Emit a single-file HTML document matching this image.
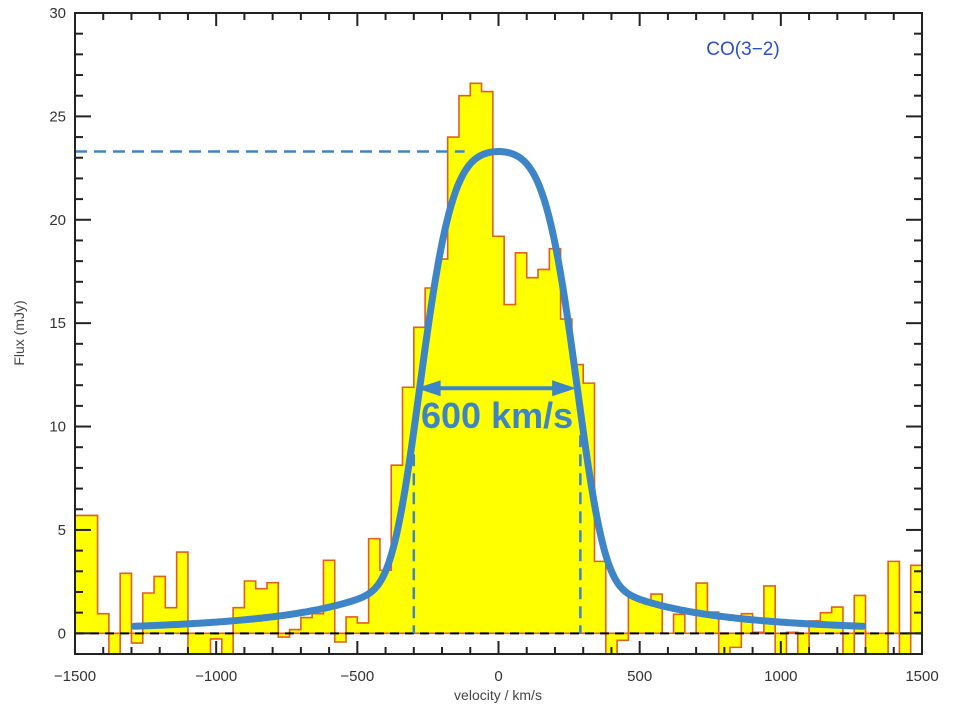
<!DOCTYPE html>
<html><head><meta charset="utf-8"><style>
body{margin:0;background:#fff;width:960px;height:720px;overflow:hidden}
svg{display:block;font-family:"Liberation Sans",sans-serif}
</style></head><body>
<svg id="chart" width="960" height="720"></svg>
<script>
const binStart=-1500, binWidth=40;
const fluxValues=[5.7,5.7,0.95,-1,2.9,-0.47,1.95,2.75,1.24,3.93,-1,-1,-0.27,-1,1.24,2.53,2.16,2.45,-0.18,0.18,0.76,0.95,3.53,-0.42,0.79,0.5,4.58,3.05,
8.13,11.9,14.8,16.7,18.1,24.0,26.0,26.6,26.2,19.2,15.9,18.4,17.2,17.6,18.6,15.2,13.0,12.1,
3.48,-1,-0.34,1.73,1.52,1.9,0,0.92,0,2.43,1.03,-1,-0.68,0.95,0.05,2.29,-1,0.05,-1,0.6,1.0,1.27,-1,1.83,-1,-1,3.48,-1,3.29];
const fitParams=[18.3,302,4,5,349]; // core amp, core width, power, wing amp, wing width
const fitRange=[-1290,1290];
const fwhmEdges=[-300,290];
const peakFlux=23.3;
const xTicks=[-1500,-1000,-500,0,500,1000,1500];
const yTicks=[0,5,10,15,20,25,30];
const L=75,R=922,T=13,B=654,xmin=-1500,xmax=1500,ymin=-1,ymax=30;
const X=v=>L+(v-xmin)/(xmax-xmin)*(R-L);
const Y=f=>B-(f-ymin)/(ymax-ymin)*(B-T);
const svg=document.getElementById('chart');
const NS='http://www.w3.org/2000/svg';
function mk(tag,attrs,parent){const e=document.createElementNS(NS,tag);for(const k in attrs)e.setAttribute(k,attrs[k]);(parent||svg).appendChild(e);return e;}
let d='M'+X(binStart)+','+Y(0);
fluxValues.forEach((f,i)=>{const a=X(binStart+i*binWidth),b=X(binStart+(i+1)*binWidth);d+=' L'+a+','+Y(f)+' L'+b+','+Y(f);});
d+=' L'+X(binStart+fluxValues.length*binWidth)+','+Y(0)+' Z';
const hist=mk('path',{d:d,fill:'#ffff00',stroke:'#e0601a','stroke-width':1.6,'stroke-linejoin':'miter'});


const zl=mk('line',{x1:L,x2:R,y1:Y(0),y2:Y(0),stroke:'#000','stroke-width':2,'stroke-dasharray':'9,6'});


const pl=mk('line',{x1:L,x2:X(-120),y1:Y(peakFlux),y2:Y(peakFlux),stroke:'#3d85c6','stroke-width':2.5,'stroke-dasharray':'12,7'});


fwhmEdges.forEach(v=>{const l=mk('line',{x1:X(v),x2:X(v),y1:Y(10.5),y2:Y(0),stroke:'#3d85c6','stroke-width':2.5,'stroke-dasharray':'12,7'});

});
function fit(v){const [A,w,p,Bw,g]=fitParams;return A*Math.exp(-Math.pow(Math.abs(v)/w,p))+Bw*g*g/(v*v+g*g);}
let cd='';for(let v=fitRange[0];v<=fitRange[1];v+=5){cd+=(cd?' L':'M')+X(v).toFixed(2)+','+Y(fit(v)).toFixed(2);}
const cv=mk('path',{d:cd,fill:'none',stroke:'#3d85c6','stroke-width':7,'stroke-linecap':'round'});


const ay=Y(11.85),ax1=X(-290),ax2=X(275);
const ar=mk('g',{});


mk('line',{x1:ax1+10,x2:ax2-10,y1:ay,y2:ay,stroke:'#3d85c6','stroke-width':4},ar);
mk('polygon',{points:`${ax1},${ay} ${ax1+24},${ay-8} ${ax1+24},${ay+8}`,fill:'#3d85c6'},ar);
mk('polygon',{points:`${ax2},${ay} ${ax2-24},${ay-8} ${ax2-24},${ay+8}`,fill:'#3d85c6'},ar);
const ft=mk('text',{x:X(-5),y:428,'text-anchor':'middle','font-size':36,'font-weight':'bold',fill:'#3d85c6'});ft.textContent='600 km/s';


const bx=mk('rect',{x:L,y:T,width:R-L,height:B-T,fill:'none',stroke:'#222','stroke-width':2});


for(let v=xmin;v<=xmax;v+=100){const maj=v%500===0,len=maj?13:7;
mk('line',{x1:X(v),x2:X(v),y1:B,y2:B-len,stroke:'#222','stroke-width':2});
mk('line',{x1:X(v),x2:X(v),y1:T,y2:T+len,stroke:'#222','stroke-width':2});}
for(let f=ymin;f<=ymax;f++){const maj=f%5===0,len=maj?16:8;
mk('line',{x1:L,x2:L+len,y1:Y(f),y2:Y(f),stroke:'#222','stroke-width':2});
mk('line',{x1:R,x2:R-len,y1:Y(f),y2:Y(f),stroke:'#222','stroke-width':2});}
xTicks.forEach(v=>{const t=mk('text',{x:X(v),y:681,'text-anchor':'middle','font-size':15,fill:'#333'});t.textContent=(v<0?'\u2212':'')+Math.abs(v);

});
yTicks.forEach(f=>{const t=mk('text',{x:66,y:Y(f)+5,'text-anchor':'end','font-size':15,fill:'#333'});t.textContent=f;

});
const xt=mk('text',{x:498,y:700,'text-anchor':'middle','font-size':14,fill:'#444'});xt.textContent='velocity / km/s';


const yt=mk('text',{x:0,y:0,'text-anchor':'middle','font-size':14,fill:'#444',transform:'translate(24,333) rotate(-90)'});yt.textContent='Flux (mJy)';


const tt=mk('text',{x:743,y:55,'text-anchor':'middle','font-size':19,fill:'#2a4fc8'});tt.textContent='CO(3\u22122)';


</script>
</body></html>
